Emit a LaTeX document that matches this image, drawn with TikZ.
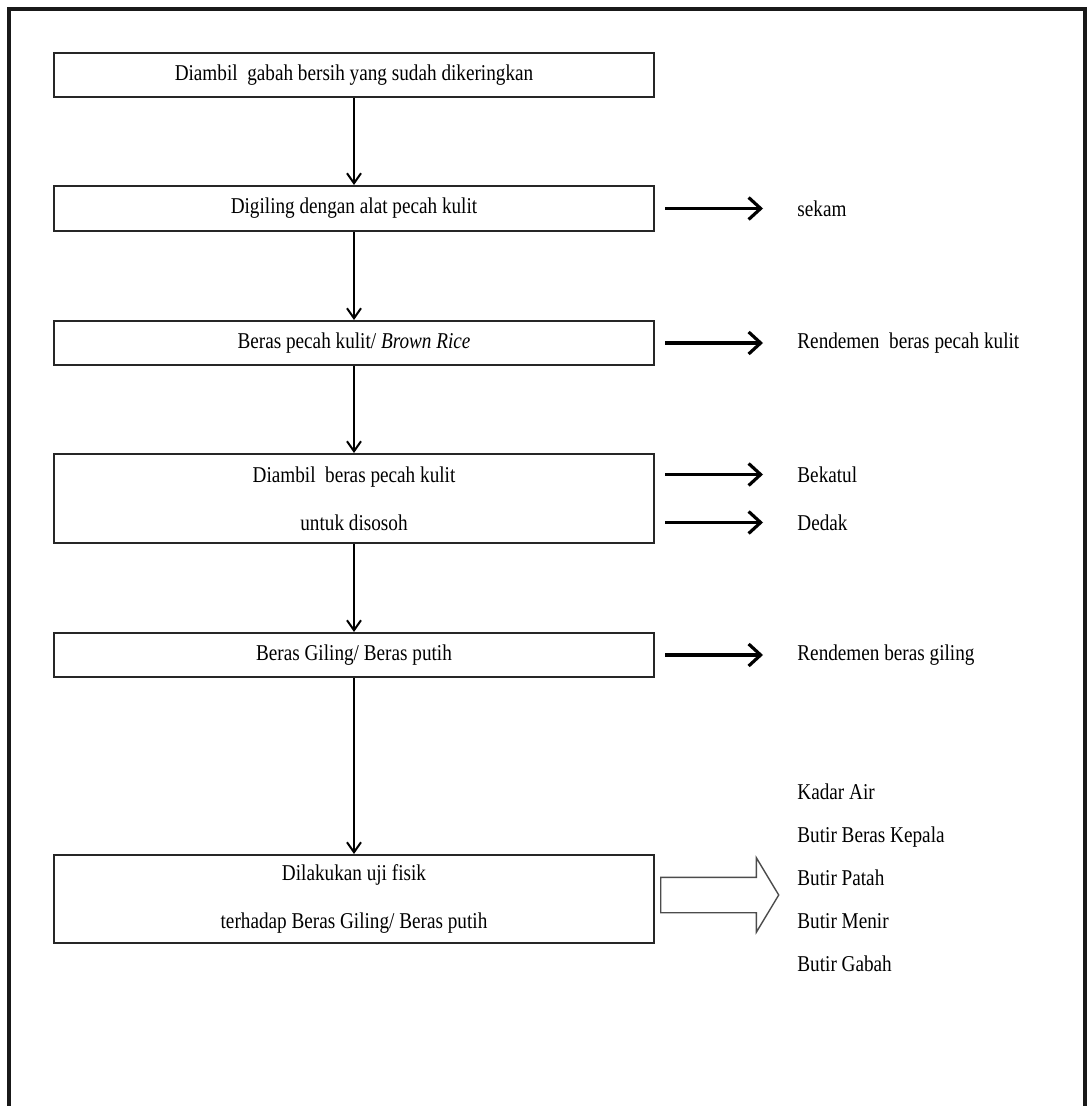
\documentclass[tikz,border=0pt]{standalone}
\usepackage{fontspec}
\setmainfont{Liberation Serif}[FakeStretch=0.85]
\usetikzlibrary{arrows.meta, positioning, calc, shapes.arrows}
\tikzset{
    font=\fontsize{11.3pt}{24pt}\selectfont,
    % Shapes
    proc/.style={rectangle, draw=black!85, line width=1pt, fill=white,
                 minimum width=300pt, minimum height=22pt, inner sep=1pt, align=center},
    hollow/.style={single arrow, draw=black!70, line width=0.7pt, fill=white,
                   minimum height=59pt, minimum width=36.5pt, inner xsep=0pt, inner ysep=8.5pt,
                   single arrow head extend=9.75pt, single arrow tip angle=118},
    % Flow & Labels
    flow/.style={-{Straight Barb[length=5pt, width=7pt]}, line width=1pt},
    side/.style={-{Straight Barb[length=6pt, width=11pt]}, line width=1.6pt},
    lbl/.style={inner sep=0pt, align=left}
}

\begin{document}
\begin{tikzpicture}[x=0.5pt, y=-0.5pt]

\useasboundingbox (0,0) rectangle (1086,1106);
\draw[line width=1.8pt, black!90] (9,1106) -- (9,9) -- (1085,9) -- (1085,1106);

\node[proc] (b1) at (354,75) {Diambil~ gabah bersih yang sudah dikeringkan};
\node[proc, minimum height=22.5pt, below=43.5pt of b1] (b2) {Digiling dengan alat pecah kulit};
\node[proc, below=44pt of b2] (b3) {Beras pecah kulit/ \textit{Brown Rice}};
\node[proc, minimum height=44.5pt, below=43.5pt of b3] (b4) {Diambil~ beras pecah kulit\\untuk disosoh};
\node[proc, below=44pt of b4] (b5) {Beras Giling/ Beras putih};
\node[proc, minimum height=44pt, below=88pt of b5] (b6) {Dilakukan uji fisik\\terhadap Beras Giling/ Beras putih};

\node[lbl, right=71pt of b2] (sekam) {sekam};
\node[lbl, right=71pt of b3] (rbpk) {Rendemen~ beras pecah kulit};
\node[lbl, right=71pt of b4, yshift=12pt] (bekatul) {Bekatul};
\node[lbl, right=71pt of b4, yshift=-12pt] (dedak) {Dedak};
\node[lbl, right=71pt of b5] (rbg) {Rendemen beras giling};
\node[lbl, font=\fontsize{11.3pt}{21.5pt}\selectfont, right=71pt of b6, yshift=10.5pt] (hasil)
    {Kadar Air\\Butir Beras Kepala\\Butir Patah\\Butir Menir\\Butir Gabah};

\draw[flow] (b1) -- (b2);
\draw[flow] (b2) -- (b3);
\draw[flow] (b3) -- (b4);
\draw[flow] (b4) -- (b5);
\draw[flow] (b5) -- (b6);

\draw[side] ([xshift=5pt]b2.east) -- ([xshift=-17pt]sekam.west);
\draw[side] ([xshift=5pt]b3.east) -- ([xshift=-17pt]rbpk.west);
\draw[side] ($(b4.east |- bekatul.west)+(5pt,0)$) -- ([xshift=-17pt]bekatul.west);
\draw[side] ($(b4.east |- dedak.west)+(5pt,0)$) -- ([xshift=-17pt]dedak.west);
\draw[side] ([xshift=5pt]b5.east) -- ([xshift=-17pt]rbg.west);

\node[hollow, right=2.5pt of b6, yshift=2pt] (panah) {};

\end{tikzpicture}
\end{document}
